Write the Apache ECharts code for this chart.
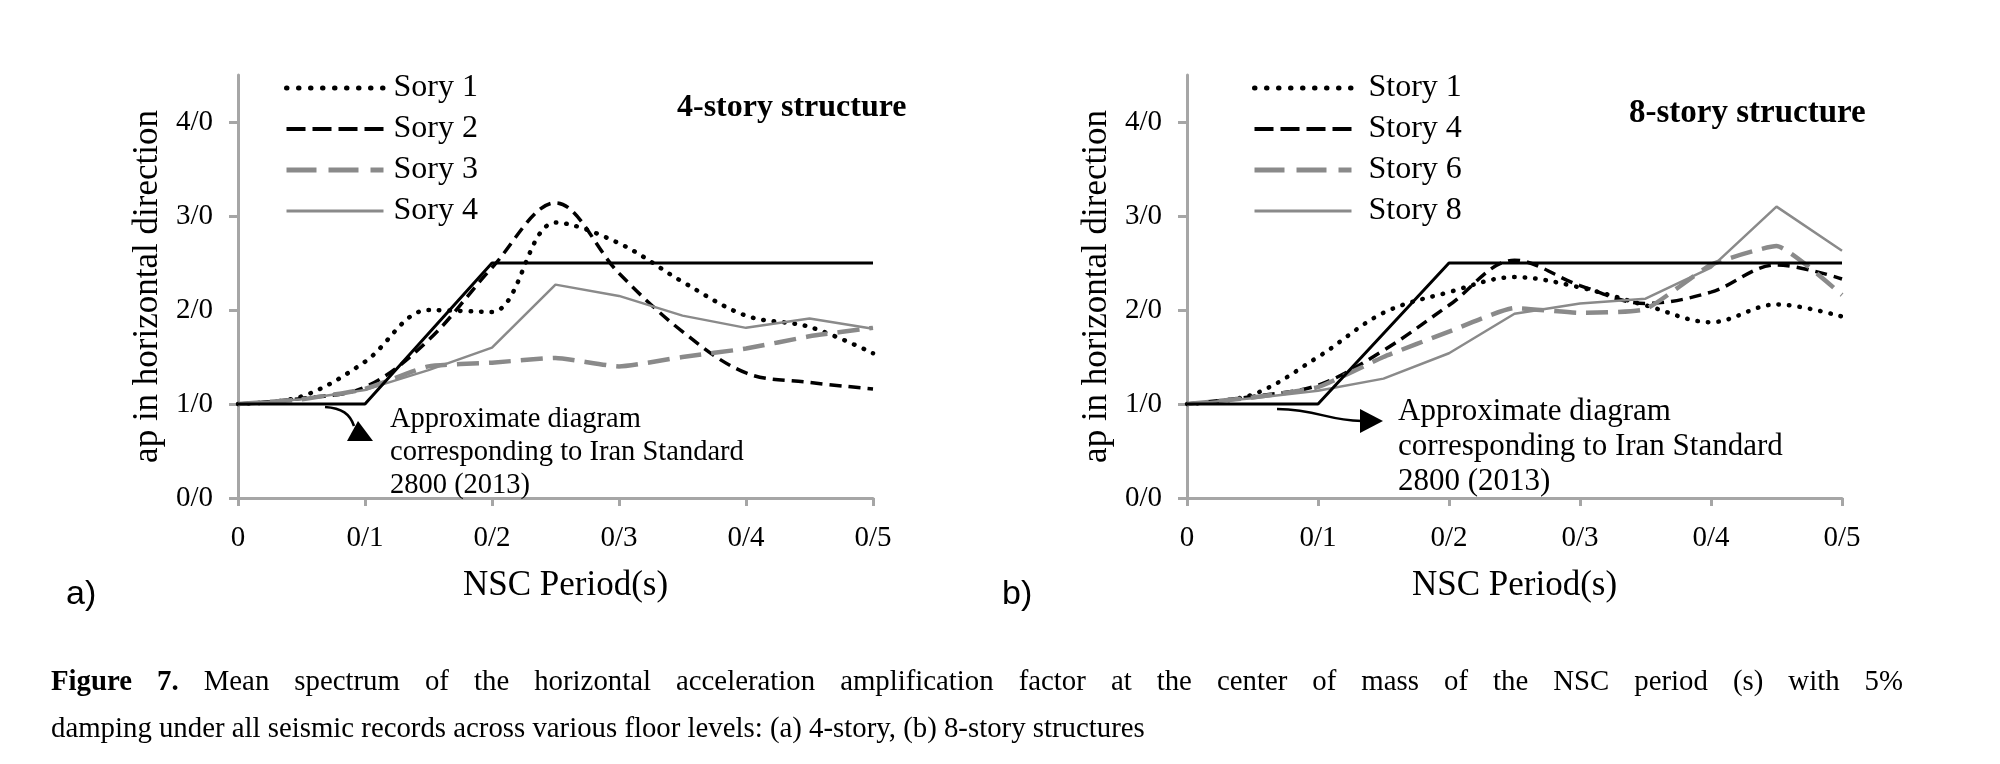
<!DOCTYPE html>
<html>
<head>
<meta charset="utf-8">
<script src="https://cdn.jsdelivr.net/npm/echarts@6/dist/echarts.min.js"></script>
<style>
  html, body { margin: 0; padding: 0; background: #fff; }
  #chart { width: 2000px; height: 764px; }
</style>
</head>
<body>
<div id="chart"></div>
<script>
// periods (s) at which the mean spectra were sampled
const periods = [0, 0.05, 0.1, 0.15, 0.2, 0.25, 0.3, 0.35, 0.4, 0.45, 0.5];

// Iran Standard 2800 approximate diagram
const stdPeriods = [0, 0.1, 0.2, 0.5];
const stdValues = [1, 1, 2.5, 2.5];

// a) 4-story structure
const namesA = ['Sory 1', 'Sory 2', 'Sory 3', 'Sory 4'];
const sory1 = [1, 1.08, 1.45, 2.0, 1.98, 2.93, 2.71, 2.30, 1.94, 1.82, 1.54];
const sory2 = [1, 1.06, 1.18, 1.68, 2.45, 3.14, 2.39, 1.77, 1.33, 1.23, 1.16];
const sory3 = [1, 1.05, 1.16, 1.40, 1.44, 1.49, 1.40, 1.50, 1.59, 1.72, 1.81];
const sory4 = [1, 1.05, 1.15, 1.36, 1.60, 2.27, 2.15, 1.94, 1.81, 1.91, 1.80];

// b) 8-story structure
const namesB = ['Story 1', 'Story 4', 'Story 6', 'Story 8'];
const story1 = [1, 1.10, 1.50, 1.97, 2.19, 2.35, 2.24, 2.05, 1.87, 2.06, 1.93];
const story4 = [1, 1.08, 1.20, 1.57, 2.05, 2.53, 2.26, 2.07, 2.19, 2.48, 2.33];
const story6 = [1, 1.07, 1.18, 1.50, 1.77, 2.02, 1.97, 2.01, 2.48, 2.68, 2.16];
const story8 = [1, 1.06, 1.14, 1.27, 1.54, 1.96, 2.07, 2.12, 2.45, 3.10, 2.63];

const yTicks = [0, 1, 2, 3, 4];

const serif = 'Liberation Serif';
const axisGray = '#a6a6a6';
const lineGray = '#8a8a8a';

const pairs = (xs, ys) => xs.map((x, i) => [x, ys[i]]);

// one look per story line, same order in both plots
const styles = [
  { color: '#000', width: 4.5, type: [0.5, 10], cap: 'round', smooth: 0.35, legendType: [0.5, 11.5], legendWidth: 5 },
  { color: '#000', width: 3.5, type: [12, 7], cap: 'butt', smooth: 0.35, legendType: [19, 7], legendWidth: 4 },
  { color: lineGray, width: 4.5, type: [22, 10], cap: 'butt', smooth: 0.15, legendType: [30, 12], legendWidth: 5 },
  { color: lineGray, width: 2.5, type: 'solid', cap: 'butt', smooth: false, legendType: 'solid', legendWidth: 3 },
];

function storySeries(names, arrays, idx) {
  return arrays.map((arr, i) => ({
    name: names[i],
    type: 'line',
    xAxisIndex: idx,
    yAxisIndex: idx,
    data: pairs(periods, arr),
    symbol: 'none',
    smooth: styles[i].smooth,
    lineStyle: {
      color: styles[i].color,
      width: styles[i].width,
      type: styles[i].type,
      cap: styles[i].cap,
    },
    itemStyle: { color: styles[i].color },
    z: 3,
  }));
}

function standardSeries(idx) {
  return {
    name: 'Iran Standard 2800',
    type: 'line',
    xAxisIndex: idx,
    yAxisIndex: idx,
    data: pairs(stdPeriods, stdValues),
    symbol: 'none',
    lineStyle: { color: '#000', width: 3 },
    z: 4,
  };
}

function xAxisFor(idx) {
  return {
    gridIndex: idx,
    type: 'value',
    min: 0,
    max: 0.5,
    interval: 0.1,
    name: 'NSC Period(s)',
    nameLocation: 'middle',
    nameGap: 70,
    nameTextStyle: { fontFamily: serif, fontSize: 35, color: '#000', padding: idx === 0 ? [0, 0, 0, 20] : 0 },
    axisLine: { lineStyle: { color: axisGray, width: 3 } },
    axisTick: { show: true, length: 8, lineStyle: { color: axisGray, width: 3 } },
    axisLabel: {
      margin: 26,
      fontFamily: serif,
      fontSize: 29,
      color: '#000',
      formatter: (v) => (v === 0 ? '0' : '0/' + Math.round(v * 10)),
    },
    splitLine: { show: false },
  };
}

function yAxisFor(idx) {
  return {
    gridIndex: idx,
    type: 'value',
    min: 0,
    max: 4.5,
    interval: 1,
    name: 'ap in horizontal direction',
    nameLocation: 'middle',
    nameGap: 73,
    nameTextStyle: { fontFamily: serif, fontSize: 35, color: '#000' },
    axisLine: { show: true, lineStyle: { color: axisGray, width: 3 } },
    axisTick: { show: true, length: 9, customValues: yTicks, lineStyle: { color: axisGray, width: 3 } },
    axisLabel: {
      margin: 25,
      fontFamily: serif,
      fontSize: 29,
      color: '#000',
      customValues: yTicks,
      formatter: (v) => v + '/0',
    },
    splitLine: { show: false },
  };
}

function legendFor(names, left, textPad) {
  return {
    data: names.map((n, i) => ({
      name: n,
      lineStyle: { type: styles[i].legendType, width: styles[i].legendWidth, cap: styles[i].cap, color: styles[i].color },
    })),
    orient: 'vertical',
    left: left,
    top: 66,
    itemWidth: 97,
    itemHeight: 14,
    itemGap: 7,
    itemStyle: { opacity: 0 },
    textStyle: { fontFamily: serif, fontSize: 32, color: '#000', lineHeight: 34, padding: [0, 0, 0, textPad] },
    selectedMode: false,
  };
}

const chart = echarts.init(document.getElementById('chart'));

const option = {
  backgroundColor: '#fff',
  animation: false,
  title: [
    { text: '4-story structure', left: 672, top: 87, textStyle: { fontFamily: serif, fontSize: 32, fontWeight: 'bold', color: '#000' } },
    { text: '8-story structure', left: 1624, top: 92, textStyle: { fontFamily: serif, fontSize: 33, fontWeight: 'bold', color: '#000' } },
  ],
  legend: [legendFor(namesA, 279, 5), legendFor(namesB, 1247, 12)],
  grid: [
    { left: 238, top: 75, width: 635, height: 423 },
    { left: 1187, top: 75, width: 655, height: 423 },
  ],
  xAxis: [xAxisFor(0), xAxisFor(1)],
  yAxis: [yAxisFor(0), yAxisFor(1)],
  series: [
    ...storySeries(namesA, [sory1, sory2, sory3, sory4], 0),
    standardSeries(0),
    ...storySeries(namesB, [story1, story4, story6, story8], 1),
    standardSeries(1),
  ],
};

chart.setOption(option);

// annotation text, arrows, panel letters and caption
const noteText = 'Approximate diagram\ncorresponding to Iran Standard\n2800 (2013)';

// caption: first line is justified in the source, so spread its words
const captionFont = 28.8;
const captionLine1 = 'Figure 7. Mean spectrum of the horizontal acceleration amplification factor at the center of mass of the NSC period (s) with 5%';
const captionLine2 = 'damping under all seismic records across various floor levels: (a) 4-story, (b) 8-story structures';
const capLeft = 51;
const capRight = 1903;

const ctx = document.createElement('canvas').getContext('2d');
const words = captionLine1.split(' ');
const wordFonts = words.map((w, i) => (i < 2 ? 'bold ' : '') + captionFont + 'px "Liberation Serif"');
const widths = words.map((w, i) => {
  ctx.font = wordFonts[i];
  return ctx.measureText(w).width;
});
const totalW = widths.reduce((a, b) => a + b, 0);
const gap = (capRight - capLeft - totalW) / (words.length - 1);
let cx = capLeft;
const captionWords = words.map((w, i) => {
  const el = { type: 'text', left: cx, top: 668, style: { text: w, fill: '#000', font: wordFonts[i] } };
  cx += widths[i] + gap;
  return el;
});

chart.setOption({
  graphic: [
    { type: 'text', left: 390, top: 403, style: { text: noteText, fill: '#000', font: '28.5px "Liberation Serif"', lineHeight: 33 }, z: 10 },
    { type: 'text', left: 1398, top: 394, style: { text: noteText, fill: '#000', font: '31px "Liberation Serif"', lineHeight: 35 }, z: 10 },
    {
      type: 'bezierCurve',
      shape: { x1: 325, y1: 407, cpx1: 342, cpy1: 408, cpx2: 350, cpy2: 414, x2: 354, y2: 426 },
      style: { stroke: '#000', lineWidth: 2.5, fill: null },
      z: 10,
    },
    { type: 'polygon', shape: { points: [[347, 441], [373, 441], [358, 421]] }, style: { fill: '#000' }, z: 10 },
    {
      type: 'bezierCurve',
      shape: { x1: 1277, y1: 409, cpx1: 1320, cpy1: 410, cpx2: 1325, cpy2: 420, x2: 1362, y2: 421 },
      style: { stroke: '#000', lineWidth: 2.5, fill: null },
      z: 10,
    },
    { type: 'polygon', shape: { points: [[1360, 409], [1360, 433], [1383, 421]] }, style: { fill: '#000' }, z: 10 },
    { type: 'text', left: 66, top: 578, style: { text: 'a)', fill: '#000', font: '34px "Liberation Sans"' } },
    { type: 'text', left: 1002, top: 578, style: { text: 'b)', fill: '#000', font: '34px "Liberation Sans"' } },
    ...captionWords,
    { type: 'text', left: capLeft, top: 715, style: { text: captionLine2, fill: '#000', font: captionFont + 'px "Liberation Serif"' } },
  ],
});
</script>
</body>
</html>
